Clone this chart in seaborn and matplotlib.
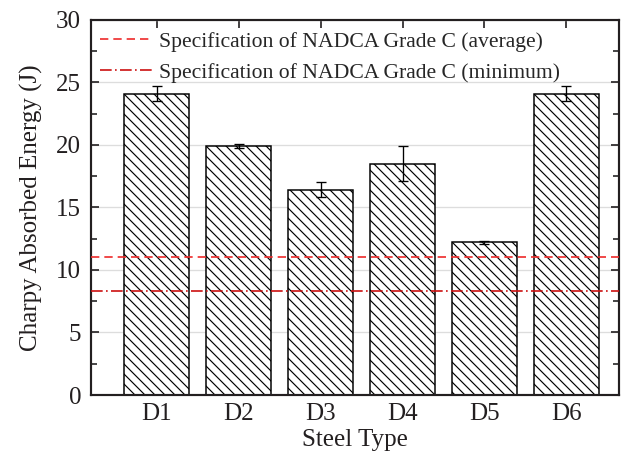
import matplotlib
matplotlib.use("Agg")
import matplotlib.pyplot as plt
from matplotlib.ticker import MultipleLocator
import seaborn as sns
import pandas as pd
import numpy as np

steel_types = ["D1", "D2", "D3", "D4", "D5", "D6"]
energy = [24.1, 19.9, 16.4, 18.5, 12.2, 24.1]
energy_err = [0.6, 0.15, 0.6, 1.4, 0.1, 0.6]
spec_average = 11.0
spec_minimum = 8.3

sns.set_style("ticks")
plt.rcParams["font.family"] = ["Liberation Serif", "DejaVu Serif"]
plt.rcParams["hatch.linewidth"] = 0.7

DPI = 120
fig = plt.figure(figsize=(629 / DPI, 452 / DPI), dpi=DPI)
ax = fig.add_axes([0.1447, 0.1261, 0.984 - 0.1447, 0.9558 - 0.1261])

df = pd.DataFrame({"Steel Type": steel_types, "Energy": energy})
sns.barplot(data=df, x="Steel Type", y="Energy", ax=ax, color="white",
            edgecolor="black", linewidth=0.9, width=0.8, errorbar=None,
            zorder=2)
for p in ax.patches:
    p.set_hatch("\\\\\\\\")
    p.set_facecolor("white")

xs = np.arange(len(steel_types))
ax.errorbar(xs, energy, yerr=energy_err, fmt="none", ecolor="black",
            elinewidth=0.8, capsize=3, capthick=0.8, zorder=3)

ax.axhline(spec_average, color="#ee2a2a", linestyle=(0, (5, 3)), linewidth=1.0,
           label="Specification of NADCA Grade C (average)", zorder=4)
ax.axhline(spec_minimum, color="#cc1111", linestyle=(0, (7, 2, 1, 2)), linewidth=1.0,
           label="Specification of NADCA Grade C (minimum)", zorder=4)

ax.set_ylim(0, 30)
ax.set_xlim(-0.8, 5.64)
ax.yaxis.set_major_locator(MultipleLocator(5))
ax.yaxis.set_minor_locator(MultipleLocator(2.5))
ax.grid(axis="y", color="#dddddd", linewidth=0.8, zorder=0)
ax.set_axisbelow(True)

for s in ax.spines.values():
    s.set_visible(True)
    s.set_linewidth(1.3)
    s.set_color("#231f20")

ax.tick_params(axis="both", which="major", direction="in", length=5, width=1.0,
               labelsize=15, colors="#231f20", top=True, right=True)
ax.tick_params(axis="y", which="minor", direction="in", length=3.5, width=1.0,
               right=True, left=True)
ax.tick_params(axis="y", which="major", pad=6)
ax.tick_params(axis="x", which="major", pad=5)

ax.set_xlabel("Steel Type", fontsize=15, labelpad=2, color="#231f20")
ax.set_ylabel("Charpy Absorbed Energy (J)", fontsize=15, labelpad=8, color="#231f20")

leg = ax.legend(loc="upper left", frameon=False, fontsize=13, handlelength=2.4,
                handletextpad=0.3, borderaxespad=0.15, labelspacing=0.5,
                bbox_to_anchor=(-0.005, 1.0))

fig.savefig("out.png", dpi=DPI)
